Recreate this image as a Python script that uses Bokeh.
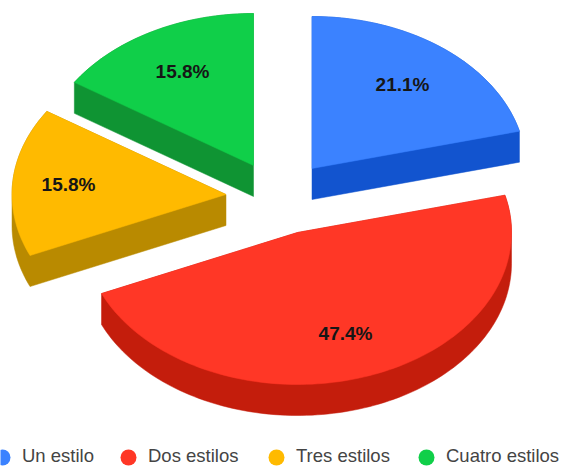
import math
from bokeh.embed import file_html
from bokeh.resources import INLINE
from bokeh.plotting import figure
from bokeh.models import Range1d
from bokeh.core.properties import value

# --- data ---
categories = ["Un estilo", "Dos estilos", "Tres estilos", "Cuatro estilos"]
counts = [4, 9, 3, 3]
labels = ["21.1%", "47.4%", "15.8%", "15.8%"]
top_colors = ["#3b82ff", "#ff3726", "#ffba00", "#10cf49"]
side_colors = ["#1254cf", "#c41d0c", "#b98a00", "#0f9433"]

# --- layout ---
W, H = 562, 466
RX, RY, DEPTH = 214, 152, 31
apexes = [(311.5, 168), (297, 232), (225.5, 194), (253, 165)]
label_pos = [(402, 84), (345, 333), (68, 184), (182, 71)]
legend_x = [2, 128, 276, 426]
legend_text_x = [21.5, 147.5, 295.5, 445.5]
legend_y = 457
legend_text_y = 454.5
LABEL_FONT = value("Liberation Sans")


def hull(points):
    pts = sorted(set(points))
    def half(seq):
        out = []
        for q in seq:
            while len(out) > 1 and ((out[-1][0] - out[-2][0]) * (q[1] - out[-2][1])
                                    - (out[-1][1] - out[-2][1]) * (q[0] - out[-2][0])) <= 0:
                out.pop()
            out.append(q)
        return out[:-1]
    return half(pts) + half(pts[::-1])


p = figure(width=W, height=H, output_backend="svg", toolbar_location=None,
           x_range=Range1d(0, W), y_range=Range1d(H, 0), min_border=0,
           outline_line_color=None, background_fill_color="white")
p.axis.visible = False
p.grid.visible = False

total = sum(counts)
spans = []
a = 0.0
for c in counts:
    spans.append((a, a + 2 * math.pi * c / total))
    a = spans[-1][1]

for (t0, t1), (cx, cy), top, side in zip(spans, apexes, top_colors, side_colors):
    n = max(2, int((t1 - t0) * 40))
    arc = [(cx + RX * math.sin(t0 + (t1 - t0) * i / n),
            cy - RY * math.cos(t0 + (t1 - t0) * i / n)) for i in range(n + 1)]
    outline = [(cx, cy)] + arc
    body = hull(outline + [(x, y + DEPTH) for x, y in outline])
    p.patch([q[0] for q in body], [q[1] for q in body], fill_color=side, line_color=side, line_width=0.5)
    p.patch([q[0] for q in outline], [q[1] for q in outline], fill_color=top, line_color=top, line_width=0.5)

p.text([q[0] for q in label_pos], [q[1] for q in label_pos], text=labels, text_align="center",
       text_baseline="middle", text_font=LABEL_FONT, text_font_size="19px", text_font_style="bold",
       text_color="#161616")

p.scatter(legend_x, [legend_y] * 4, size=16, marker="circle", fill_color=top_colors, line_color=None)
p.text(legend_text_x, [legend_text_y] * 4, text=categories, text_align="left",
       text_baseline="middle", text_font=LABEL_FONT, text_font_size="18.5px", text_color="#444444")

open("out.html", "w").write(file_html(p, INLINE))
